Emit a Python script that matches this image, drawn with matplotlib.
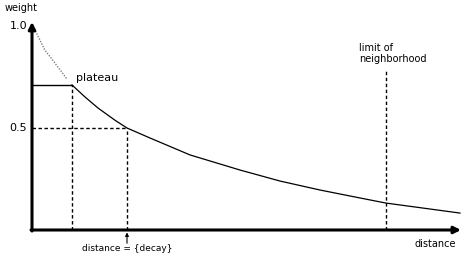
import matplotlib.pyplot as plt

# decay curve (distance, weight)
dist = [40, 53, 66, 83, 95, 118, 158, 208, 248, 288, 328, 354, 428]
weight = [0.711, 0.652, 0.598, 0.538, 0.50, 0.451, 0.368, 0.294, 0.240, 0.196, 0.157, 0.132, 0.083]

# unclipped curve above the plateau (grey dotted)
top_dist = [1, 13, 18, 35]
top_weight = [1.0, 0.88, 0.85, 0.74]

plateau = 0.711
plateau_dist = 40
decay_dist = 95
limit_dist = 354

fig = plt.figure(figsize=(4.68, 2.59), dpi=100)
ax = fig.add_axes([0, 0, 1, 1])
ax.set_xlim(-32, 436)
ax.set_ylim(-29 / 204, 230 / 204)
ax.axis('off')

fs = 7

# axes with arrows
ax.annotate('', xy=(0, 1.02), xytext=(0, -0.005),
            arrowprops=dict(arrowstyle='-|>', lw=2.2, color='black',
                            mutation_scale=10, shrinkA=0, shrinkB=0))
ax.annotate('', xy=(429, 0), xytext=(-1, 0),
            arrowprops=dict(arrowstyle='-|>', lw=2.2, color='black',
                            mutation_scale=10, shrinkA=0, shrinkB=0))

# curves
ax.plot(top_dist, top_weight, color='#808080', lw=1.0, ls=(0, (1, 1)))
ax.plot([0, plateau_dist], [plateau, plateau], color='black', lw=1.0)
ax.plot(dist, weight, color='black', lw=0.9)

# dashed guides
dash = (0, (2.5, 1.8))
ax.plot([plateau_dist, plateau_dist], [0, plateau], color='black', lw=1.0, ls=dash)
ax.plot([decay_dist, decay_dist], [0, 0.5], color='black', lw=1.0, ls=dash)
ax.plot([0, decay_dist], [0.5, 0.5], color='black', lw=1.0, ls=dash)
ax.plot([limit_dist, limit_dist], [0, 0.785], color='black', lw=1.0, ls=dash)

# labels
ax.text(-27, 1.09, 'weight', fontsize=fs, va='center', ha='left')
ax.text(-5, 1.0, '1.0', fontsize=fs + 1, va='center', ha='right')
ax.text(-5, 0.5, '0.5', fontsize=fs + 1, va='center', ha='right')
ax.text(44, 0.745, 'plateau', fontsize=fs + 1, va='center', ha='left')
ax.text(327, 0.865, 'limit of\nneighborhood', fontsize=fs, va='center', ha='left',
        linespacing=1.1)
ax.text(424, -0.07, 'distance', fontsize=fs, va='center', ha='right')
ax.text(decay_dist, -0.09, 'distance = {decay}', fontsize=fs - 0.5, va='center', ha='center')
ax.annotate('', xy=(decay_dist, -0.012), xytext=(decay_dist, -0.065),
            arrowprops=dict(arrowstyle='-|>', lw=0.8, color='black',
                            mutation_scale=5, shrinkA=0, shrinkB=0))

fig.savefig('out.png', dpi=100)
